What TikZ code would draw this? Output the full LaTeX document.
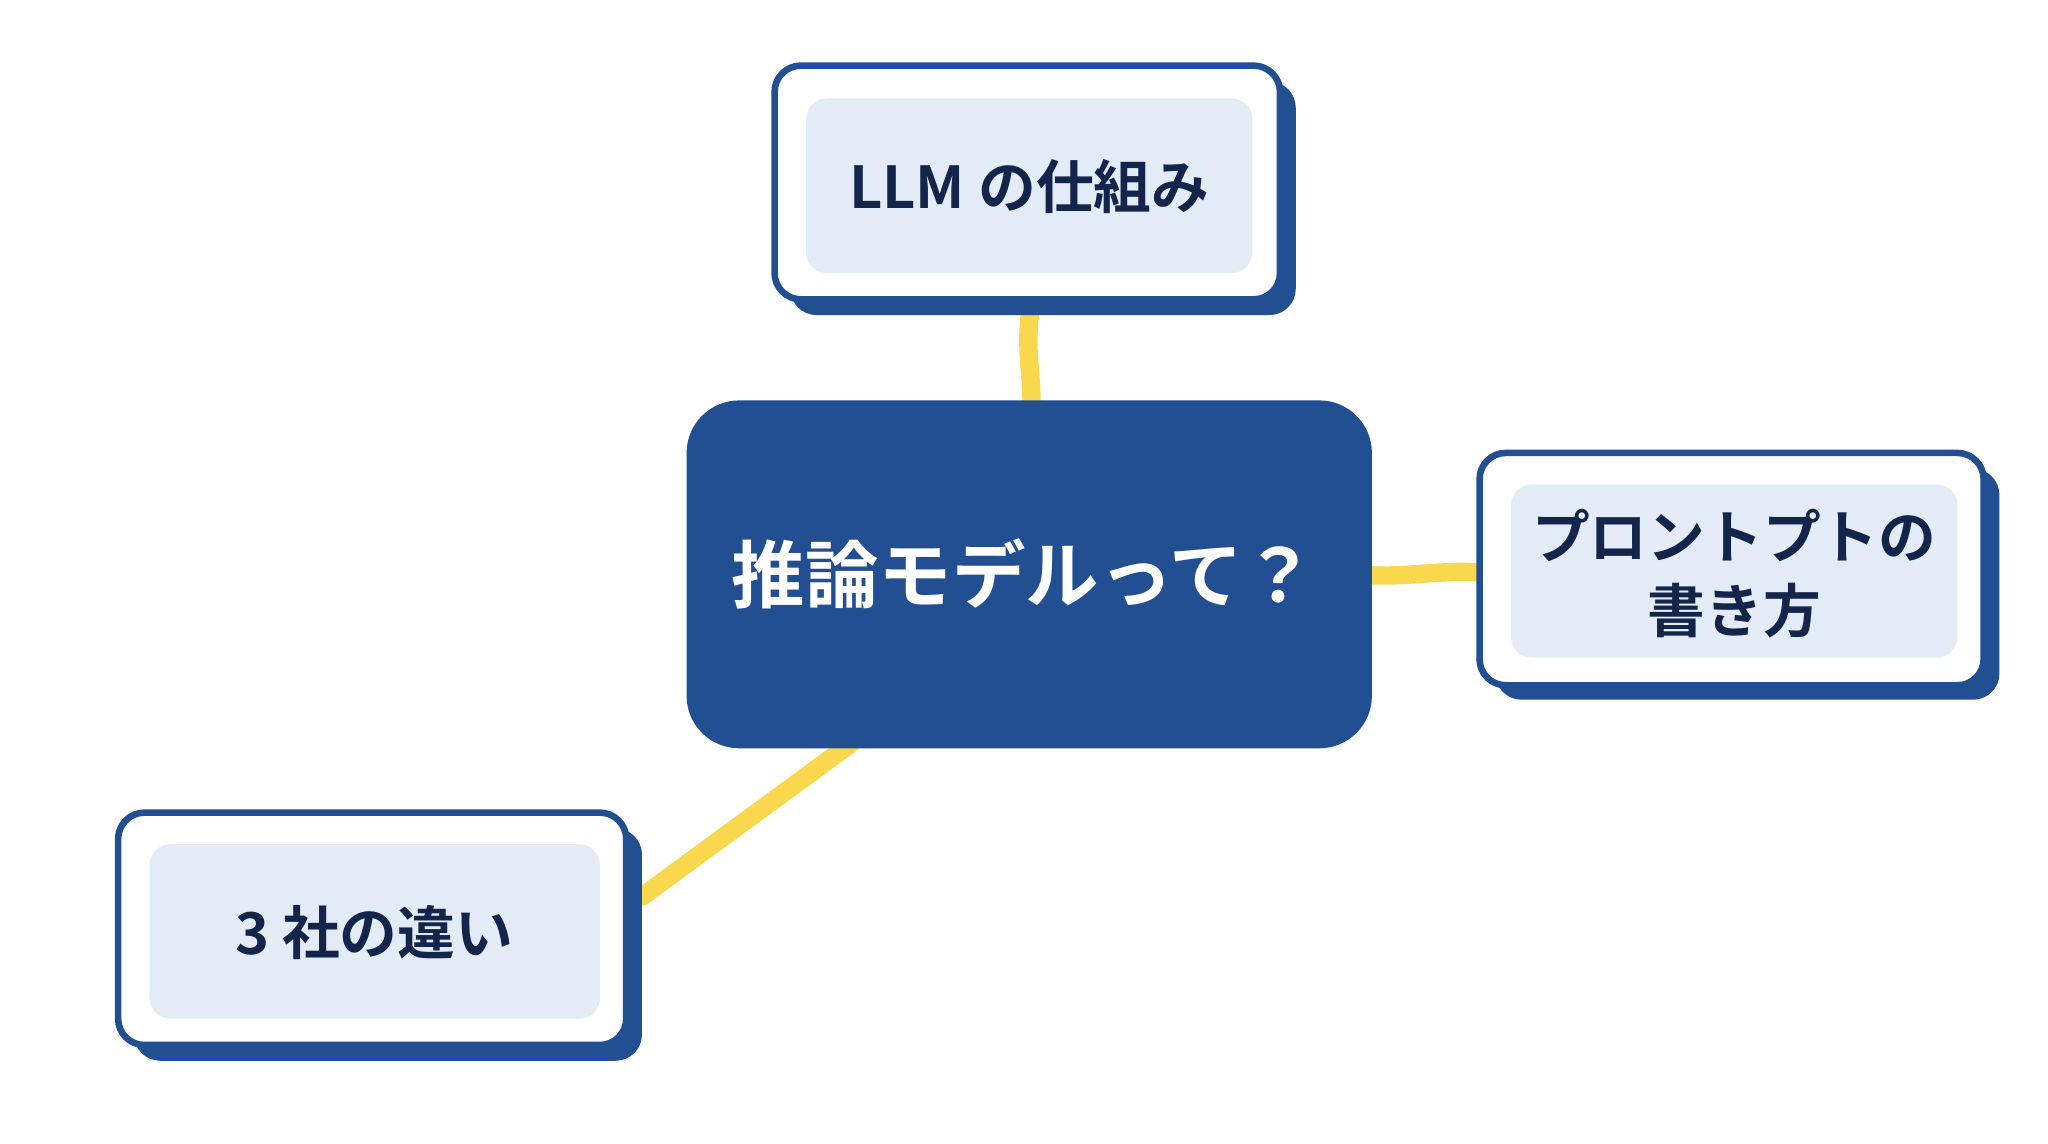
\documentclass[tikz,border=0pt]{standalone}
\usepackage{fontspec}
\newfontfamily\jp{Noto Sans CJK JP Bold}
\definecolor{navy}{HTML}{224E92}
\definecolor{ink}{HTML}{13254A}
\definecolor{pale}{HTML}{E3EBF7}
\definecolor{yel}{HTML}{F9D84E}
\begin{document}
\begin{tikzpicture}[x=0.5pt,y=-0.5pt,
  conn/.style={yel,line width=7pt,line cap=round},
  shadowbox/.style={fill=navy,rounded corners=10pt},
  outerbox/.style={fill=white,draw=navy,line width=2.5pt,rounded corners=10pt},
  innerbox/.style={fill=pale,rounded corners=8pt},
  lbl/.style={font=\jp\fontsize{22}{28}\selectfont,text=ink,align=center}]
\useasboundingbox (0,0) rectangle (1560,871);
% connectors
\coordinate (ct) at (785,242);
\coordinate (cr) at (1127,435);
\coordinate (cl) at (489,685);
\draw[conn] (785,236) .. controls (780,270) and (788,290) .. (785,320);
\draw[conn] (1040,438) .. controls (1070,440) and (1100,434) .. (1125,436);
\draw[conn] (650,565) -- (489,683);
% center
\fill[navy,rounded corners=20pt] (523,305) rectangle (1045,570);
\node[font=\jp\fontsize{28}{34}\selectfont,text=white] (c) at (780,437) {推論モデルって？};
% top
\fill[shadowbox] (602,62) rectangle (987,240);
\draw[outerbox] (590,50) rectangle (975,228);
\fill[innerbox] (614,75) rectangle (954,208);
\node[lbl] (t) at (784,142) {LLM の仕組み};
% right
\fill[shadowbox] (1139,357) rectangle (1523,533);
\draw[outerbox] (1127,345) rectangle (1511,522);
\fill[innerbox] (1151,369) rectangle (1491,501);
\node[lbl] (r) at (1321,437) {プロントプトの\\書き方};
% left
\fill[shadowbox] (102,631) rectangle (489,808);
\draw[outerbox] (90,619) rectangle (477,796);
\fill[innerbox] (114,643) rectangle (457,776);
\node[lbl] (l) at (285,710) {3 社の違い};
\end{tikzpicture}
\end{document}
